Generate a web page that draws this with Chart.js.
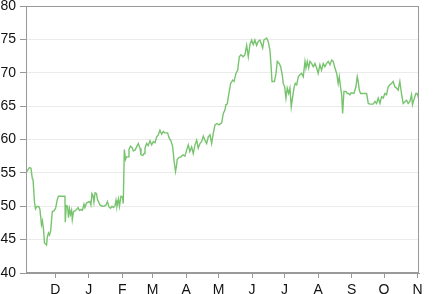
<!DOCTYPE html>
<html>
<head>
<meta charset="utf-8">
<script src="https://cdn.jsdelivr.net/npm/chart.js@4.4.0/dist/chart.umd.min.js"></script>
<style>
  html, body { margin: 0; padding: 0; background: #fff; }
  #wrap { width: 433px; height: 294px; }
</style>
</head>
<body>
<div id="wrap"><canvas id="chart" width="433" height="294"></canvas></div>
<script>
// days counted from the first point (Nov 4)
const dayOffsets = [
  0, 1.8, 3.2, 4.6, 5.8, 6.5, 7.9, 8.8, 10.2, 12, 12.9, 14.3, 15.2, 16.2, 17.1, 19, 19.7, 20.8, 21.7, 22.8,
  24.3, 25.8, 27.4, 28.9, 30, 36, 36.3, 37.2, 38.4, 39.3, 40.2, 41.1, 42.1, 42.8, 43.9, 45.3, 46.7, 48.1, 49.4, 50.8,
  52.2, 53.6, 54.5, 55.9, 57.3, 59.1, 60, 60.9, 61.9, 62.8, 63.8, 65.1, 66.1, 67, 68.4, 70.3, 72.1, 74, 75.3, 76.7,
  78.1, 79.5, 80.9, 82.3, 83.2, 84.1, 85.5, 86.4, 87.8, 89.2, 89.9, 90.9, 92, 92.9, 94.3, 95.2, 96.6, 98, 99.2, 100.8,
  102.3, 103.8, 105.4, 106.3, 108.1, 109.1, 110, 111.5, 113, 114.6, 116.2, 117.7, 119.2, 120.8, 122.3, 123.8, 125.4, 126.9, 128.4, 130.9,
  132.4, 134, 135.6, 136.8, 138.2, 139.1, 139.8, 141.4, 143.2, 145.1, 146.9, 148.5, 150, 151.5, 153.1, 154.6, 156.2, 157.8, 159.2, 160.8,
  162.4, 163.9, 165.4, 167, 168.5, 170.1, 171.6, 173.1, 174.7, 176.5, 178.4, 180.9, 182.4, 183.9, 184.8, 186, 187.2, 187.9, 189.2, 191.1,
  192.3, 194.1, 195.7, 197.2, 198.7, 200.8, 202.4, 204, 205.5, 207, 208.6, 210.1, 211.6, 213.2, 214.7, 216.3, 217.8, 218.8, 219.9, 222.4,
  223.9, 225.5, 226.4, 227.4, 229.7, 231.1, 232.3, 234.1, 235.4, 236.9, 237.8, 239.1, 240.3, 241.5, 242.8, 244, 245.2, 246.5, 247.7, 248.9,
  250.2, 251.7, 253.2, 254.8, 256.3, 257.9, 258.8, 260, 261.3, 262.5, 264, 265.5, 267.1, 268.7, 270.1, 271.7, 273.2, 274.8, 276.3, 277.9,
  279.4, 281, 282.5, 284, 285.6, 287.2, 288.6, 289.6, 290.9, 291.8, 292.7, 293.9, 295.8, 297, 298.2, 299.4, 300.6, 303.1, 305, 306.2,
  307.1, 308.1, 309.3, 311.8, 314.9, 316.4, 318, 321, 322.6, 324.1, 325.6, 327.2, 328.7, 330.2, 331.8, 333.3, 334.8, 336.4, 337.9, 339.4,
  341, 342.5, 344, 345.6, 347.1, 348.7, 351.8, 353.3, 354.9, 356.4, 357.3, 358.5, 360.4, 361.6, 362.9
];
const prices = [
  55.0, 55.5, 55.8, 55.7, 54.2, 54.0, 50.5, 49.6, 50.0, 49.9, 49.5, 47.2, 47.8, 46.5, 44.5, 44.2, 45.4, 46.0, 45.7, 46.3,
  49.2, 49.3, 49.7, 51.0, 51.5, 51.5, 47.6, 50.1, 50.0, 48.3, 49.6, 48.8, 49.4, 48.0, 49.2, 49.3, 49.5, 49.8, 49.4, 49.5,
  49.4, 50.3, 49.8, 50.5, 50.6, 50.7, 50.2, 51.9, 51.6, 50.6, 52.0, 51.9, 51.0, 50.7, 50.2, 50.0, 50.0, 50.2, 50.7, 49.9,
  49.7, 50.0, 49.8, 50.1, 50.9, 50.0, 51.1, 50.0, 51.5, 51.4, 50.4, 58.5, 57.0, 57.4, 57.4, 58.5, 59.0, 58.8, 58.3, 58.4,
  58.9, 59.4, 58.7, 57.7, 57.6, 57.9, 58.7, 59.4, 59.1, 59.8, 59.2, 59.7, 59.5, 60.4, 60.7, 61.4, 60.8, 61.2, 61.0, 61.0,
  60.2, 59.8, 58.9, 56.9, 55.2, 56.0, 57.0, 57.3, 57.4, 57.7, 57.5, 58.4, 59.2, 58.2, 58.9, 57.9, 59.2, 59.9, 58.7, 59.4,
  59.7, 60.5, 59.9, 59.4, 60.4, 60.7, 59.4, 60.9, 62.2, 62.4, 62.2, 62.5, 63.9, 64.4, 65.2, 65.3, 66.5, 67.2, 68.4, 68.9,
  68.7, 69.9, 70.4, 72.4, 72.7, 72.4, 72.7, 74.1, 72.4, 74.2, 74.9, 74.2, 74.9, 74.1, 74.7, 74.9, 74.2, 73.7, 74.9, 75.2,
  74.7, 73.4, 71.4, 68.7, 68.7, 69.9, 71.7, 71.4, 70.9, 69.7, 68.4, 67.9, 66.2, 67.7, 66.9, 67.7, 64.9, 66.4, 67.7, 68.4,
  68.2, 69.4, 69.7, 69.9, 69.4, 71.7, 70.7, 71.7, 70.7, 71.7, 71.4, 70.9, 71.4, 70.7, 69.9, 71.2, 70.4, 71.4, 70.9, 71.4,
  71.7, 71.2, 71.9, 71.7, 70.7, 69.9, 68.4, 69.4, 67.7, 66.7, 63.9, 67.2, 67.2, 66.9, 66.9, 66.7, 67.0, 66.9, 67.9, 69.4,
  68.7, 67.4, 66.9, 66.9, 66.9, 65.4, 65.3, 65.3, 65.7, 65.4, 66.2, 65.4, 66.4, 66.2, 66.9, 66.7, 67.9, 68.2, 68.4, 68.7,
  67.9, 67.7, 67.4, 68.7, 66.9, 65.4, 65.9, 65.4, 65.7, 66.7, 65.2, 65.9, 66.9, 66.9, 66.2
];
const monthLabels = ["D", "J", "F", "M", "A", "M", "J", "J", "A", "S", "O", "N"];
const monthStarts = [27, 58, 89, 117, 148, 178, 209, 239, 270, 301, 331, 362];
const yTicks = [40, 45, 50, 55, 60, 65, 70, 75, 80];

const points = dayOffsets.map((d, i) => ({ x: d, y: prices[i] }));

// box around the plot area
const frame = {
  id: "frame",
  afterDraw(chart) {
    const a = chart.chartArea, ctx = chart.ctx;
    ctx.save();
    ctx.strokeStyle = "#999";
    ctx.lineWidth = 1;
    ctx.strokeRect(Math.round(a.left) + 0.5, Math.round(a.top) + 0.5,
      Math.round(a.right - a.left) - 1, Math.round(a.bottom - a.top) - 1);
    ctx.restore();
  }
};

new Chart(document.getElementById("chart"), {
  type: "line",
  data: {
    datasets: [{
      data: points,
      borderColor: "#78c46e",
      borderWidth: 1.4,
      pointRadius: 0,
      tension: 0,
      fill: false
    }]
  },
  options: {
    responsive: false,
    animation: false,
    layout: { padding: { top: 6, right: 14, left: 0, bottom: 0 } },
    plugins: { legend: { display: false }, tooltip: { enabled: false } },
    scales: {
      x: {
        type: "linear",
        min: 0,
        max: 363.3,
        afterBuildTicks: (scale) => { scale.ticks = monthStarts.map(v => ({ value: v })); },
        afterFit: (scale) => {
          scale.height = 21;
          scale.paddingLeft = 0;
          scale.paddingRight = 0;
        },
        ticks: {
          autoSkip: false,
          maxRotation: 0,
          padding: 4,
          color: "#111",
          font: { family: "Liberation Sans", size: 14 },
          callback: (v, i) => monthLabels[i]
        },
        grid: { drawOnChartArea: false, drawTicks: true, tickLength: 5, tickColor: "#999" },
        border: { color: "#999" }
      },
      y: {
        min: 40,
        max: 80,
        afterBuildTicks: (scale) => { scale.ticks = yTicks.map(v => ({ value: v })); },
        afterFit: (scale) => {
          scale.width = 26;
          scale.paddingTop = 0;
          scale.paddingBottom = 0;
        },
        ticks: {
          padding: 4,
          color: "#111",
          font: { family: "Liberation Sans", size: 14 }
        },
        grid: { color: "#ebebeb", tickLength: 6, tickColor: "#999" },
        border: { color: "#999" }
      }
    }
  },
  plugins: [frame]
});
</script>
</body>
</html>
